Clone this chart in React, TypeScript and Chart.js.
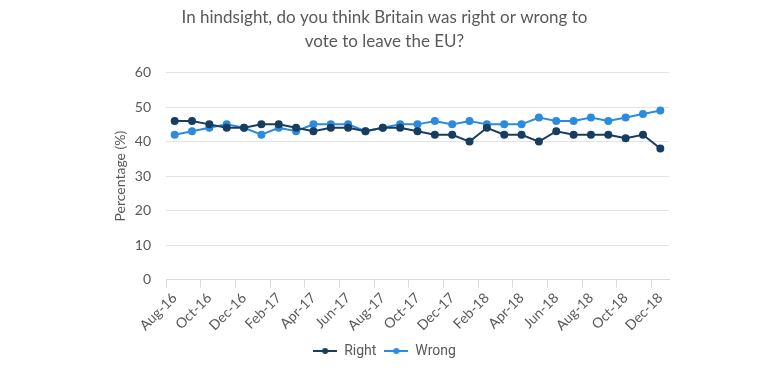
import React, { useEffect, useRef } from "react";
import { Chart, registerables } from "chart.js";

Chart.register(...registerables);

const months = [
  "Aug-16", "Sep-16", "Oct-16", "Nov-16", "Dec-16", "Jan-17", "Feb-17", "Mar-17",
  "Apr-17", "May-17", "Jun-17", "Jul-17", "Aug-17", "Sep-17", "Oct-17", "Nov-17",
  "Dec-17", "Jan-18", "Feb-18", "Mar-18", "Apr-18", "May-18", "Jun-18", "Jul-18",
  "Aug-18", "Sep-18", "Oct-18", "Nov-18", "Dec-18",
];
const rightValues = [46, 46, 45, 44, 44, 45, 45, 44, 43, 44, 44, 43, 44, 44, 43, 42, 42, 40, 44, 42, 42, 40, 43, 42, 42, 42, 41, 42, 38];
const wrongValues = [42, 43, 44, 45, 44, 42, 44, 43, 45, 45, 45, 43, 44, 45, 45, 46, 45, 46, 45, 45, 45, 47, 46, 46, 47, 46, 47, 48, 49];
const yTicks = [0, 10, 20, 30, 40, 50, 60];
const titleLines = ["In hindsight, do you think Britain was right or wrong to", "vote to leave the EU?"];

const RIGHT_COLOR = "#173d61";
const WRONG_COLOR = "#2c8be0";
const TEXT = "#595959";
const GRID = "#e3e3e3";

function legendIcon(color: string) {
  const c = document.createElement("canvas");
  c.width = 24;
  c.height = 8;
  const ctx = c.getContext("2d")!;
  ctx.strokeStyle = color;
  ctx.lineWidth = 2;
  ctx.beginPath();
  ctx.moveTo(0, 4);
  ctx.lineTo(24, 4);
  ctx.stroke();
  ctx.fillStyle = color;
  ctx.beginPath();
  ctx.arc(12, 4, 3, 0, Math.PI * 2);
  ctx.fill();
  return c;
}

export default function App() {
  const ref = useRef<HTMLCanvasElement>(null);
  useEffect(() => {
    if (!ref.current) return;
    const chart = new Chart(ref.current, {
      type: "line",
      data: {
        labels: months,
        datasets: [
          {
            label: "Right",
            data: rightValues,
            borderColor: RIGHT_COLOR,
            backgroundColor: RIGHT_COLOR,
            borderWidth: 2,
            pointRadius: 3,
            pointHoverRadius: 3,
            pointStyle: "circle",
            tension: 0,
          },
          {
            label: "Wrong",
            data: wrongValues,
            borderColor: WRONG_COLOR,
            backgroundColor: WRONG_COLOR,
            borderWidth: 2,
            pointRadius: 3,
            pointHoverRadius: 3,
            pointStyle: "circle",
            tension: 0,
          },
        ],
      },
      options: {
        animation: false,
        responsive: true,
        maintainAspectRatio: false,
        layout: { padding: { left: 100, right: 111, top: 0, bottom: 0 } },
        plugins: {
          title: {
            display: true,
            text: titleLines,
            color: TEXT,
            font: { family: "Lato", size: 17, weight: "normal", lineHeight: 1.4 },
            padding: { top: 6, bottom: 19 },
          },
          legend: {
            position: "bottom",
            labels: {
              color: TEXT,
              font: { family: "Roboto", size: 14 },
              usePointStyle: true,
              pointStyleWidth: 24,
              padding: 8,
              generateLabels: (ch: any) =>
                ch.data.datasets.map((ds: any, i: number) => ({
                  text: ds.label,
                  fillStyle: ds.borderColor,
                  strokeStyle: ds.borderColor,
                  fontColor: TEXT,
                  pointStyle: legendIcon(ds.borderColor),
                  datasetIndex: i,
                  hidden: false,
                  lineWidth: 0,
                })),
            },
          },
          tooltip: { enabled: false },
        },
        scales: {
          x: {
            offset: true,
            grid: {
              offset: true,
              drawOnChartArea: false,
              tickLength: 8,
              color: (ctx: any) => (ctx.index % 2 === 0 ? "#d9d9d9" : "rgba(0,0,0,0)"),
            },
            border: { display: true, color: "#d9d9d9" },
            ticks: {
              autoSkip: false,
              maxRotation: 45,
              minRotation: 45,
              color: TEXT,
              padding: 2,
              font: { family: "Lato", size: 14 },
              callback: (_v: any, i: number) => (i % 2 === 0 ? months[i] : ""),
            },
          },
          y: {
            min: 0,
            max: 60,
            afterBuildTicks: (scale: any) => {
              scale.ticks = yTicks.map((v) => ({ value: v }));
            },
            afterFit: (scale: any) => {
              scale.width = 66;
            },
            grid: { color: GRID, drawTicks: false },
            border: { display: false },
            ticks: {
              color: TEXT,
              padding: 15,
              font: { family: "Lato", size: 14 },
            },
            title: {
              display: true,
              text: "Percentage (%)",
              color: TEXT,
              font: { family: "Lato", size: 14 },
              padding: { top: 12, bottom: 0 },
            },
          },
        },
      },
    });
    return () => chart.destroy();
  }, []);
  return (
    <div style={{ position: "fixed", left: 0, top: 0, width: 780, height: 368, background: "#fff" }}>
      <canvas ref={ref} />
    </div>
  );
}
